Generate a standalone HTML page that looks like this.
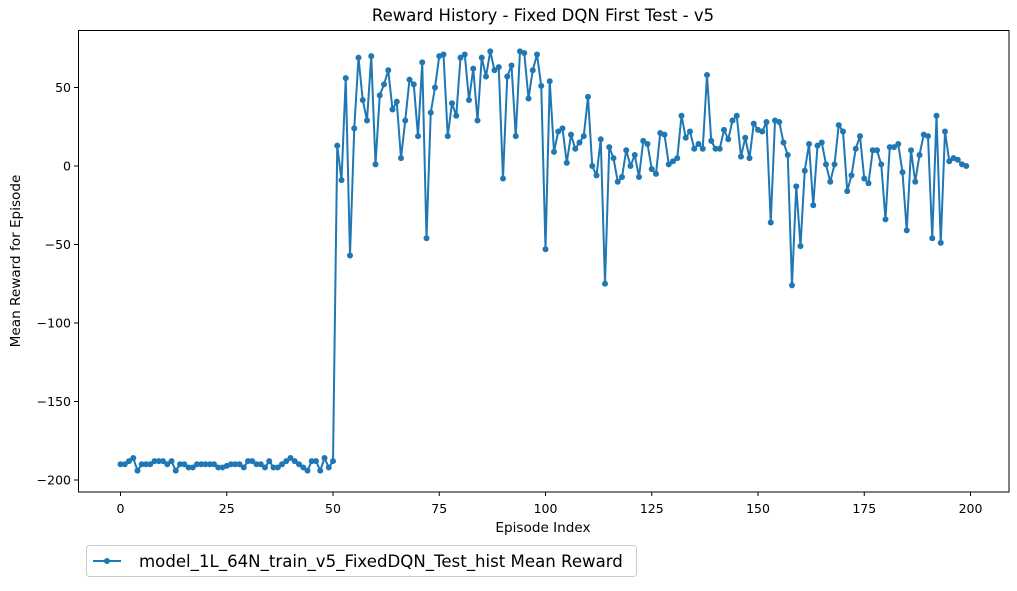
<!DOCTYPE html>
<html><head><meta charset="utf-8"><style>
body{margin:0;background:#fff}
svg text{font-family:"DejaVu Sans","Liberation Sans",sans-serif;fill:#000}
</style></head><body>
<svg width="1017" height="586" id="chart">
<text x="543" y="21" font-size="16.5" text-anchor="middle">Reward History - Fixed DQN First Test - v5</text>
<rect x="78.5" y="30.5" width="930.5" height="461.5" fill="none" stroke="#000" stroke-width="1"/>
<g id="xt"></g>
<g id="yt"></g>
<text x="543" y="532" font-size="13.6" text-anchor="middle">Episode Index</text>
<text transform="translate(20,261) rotate(-90)" font-size="13.6" text-anchor="middle">Mean Reward for Episode</text>
<g id="series"></g>
<g>
<rect x="86.5" y="545.5" width="550" height="31" rx="3" fill="#fff" stroke="#ccc"/>
<line x1="93" y1="561" x2="121" y2="561" stroke="#1f77b4" stroke-width="2"/>
<circle cx="107" cy="561" r="3" fill="#1f77b4"/>
<text x="139" y="567" font-size="16.6">model_1L_64N_train_v5_FixedDQN_Test_hist Mean Reward</text>
</g>
</svg>
<script>
const xTicks=[0,25,50,75,100,125,150,175,200];
const yTicks=[-200,-150,-100,-50,0,50];
const early=[-190,-190,-188,-186,-194,-190,-190,-190,-188,-188,-188,-190,-188,-194,-190,-190,-192,-192,-190,-190,-190,-190,-190,-192,-192,-191,-190,-190,-190,-192,-188,-188,-190,-190,-192,-188,-192,-192,-190,-188,-186,-188,-190,-192,-194,-188,-188,-194,-186,-192];
const late=[-188,13,-9,56,-57,24,69,42,29,70,1,45,52,61,36,41,5,29,55,52,19,66,-46,34,50,70,71,19,40,32,69,71,42,62,29,69,57,73,61,63,-8,57,64,19,73,72,43,61,71,51,-53,54,9,22,24,2,20,11,15,19,44,0,-6,17,-75,12,5,-10,-7,10,0,7,-7,16,14,-2,-5,21,20,1,3,5,32,18,22,11,14,11,58,16,11,11,23,17,29,32,6,18,5,27,23,22,28,-36,29,28,15,7,-76,-13,-51,-3,14,-25,13,15,1,-10,1,26,22,-16,-6,11,19,-8,-11,10,10,1,-34,12,12,14,-4,-41,10,-10,7,20,19,-46,32,-49,22,3,5,4,1,0];
const rewards=early.concat(late);
const X=v=>120.5+v*4.25, Y=v=>166-v*1.57;
const NS="http://www.w3.org/2000/svg";
function mk(t,a,p){const e=document.createElementNS(NS,t);for(const k in a)e.setAttribute(k,a[k]);p.appendChild(e);return e;}
const xt=document.getElementById('xt'),yt=document.getElementById('yt'),s=document.getElementById('series');
xTicks.forEach(v=>{mk('line',{x1:X(v),x2:X(v),y1:492,y2:496,stroke:'#000'},xt);
const t=mk('text',{x:X(v),y:513,'font-size':12.5,'text-anchor':'middle'},xt);t.textContent=v;

});
yTicks.forEach(v=>{mk('line',{x1:74,x2:78,y1:Y(v),y2:Y(v),stroke:'#000'},yt);
const t=mk('text',{x:71,y:Y(v)+4.5,'font-size':12.5,'text-anchor':'end'},yt);t.textContent=String(v).replace('-','\u2212');

});
const pl=mk('polyline',{points:rewards.map((v,i)=>X(i)+','+Y(v)).join(' '),fill:'none',stroke:'#1f77b4','stroke-width':2,'stroke-linejoin':'round'},s);


rewards.forEach((v,i)=>{const c=mk('circle',{cx:X(i),cy:Y(v),r:3,fill:'#1f77b4'},s);

});
</script>
</body></html>
